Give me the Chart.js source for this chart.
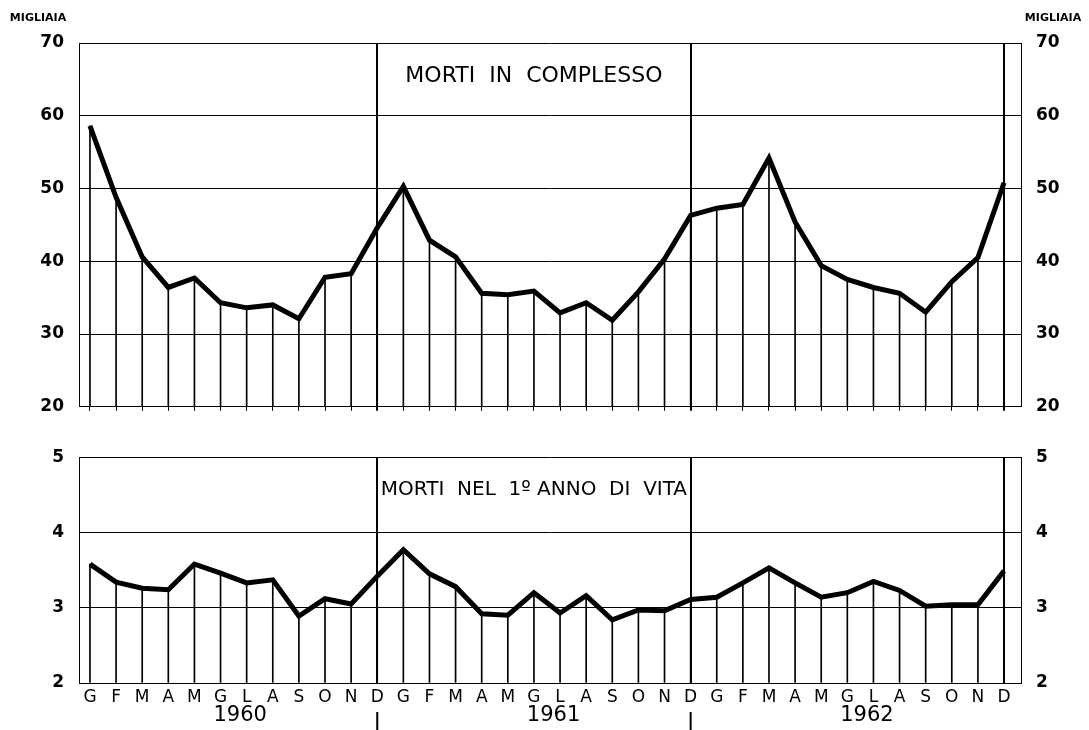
<!DOCTYPE html>
<html>
<head>
<meta charset="utf-8">
<script src="https://cdn.jsdelivr.net/npm/chart.js@4.4.1/dist/chart.umd.min.js"></script>
<style>
  html, body { margin: 0; padding: 0; background: #fff; }
  #wrap { position: relative; width: 1089px; height: 730px; }
  canvas { position: absolute; left: 0; }
</style>
</head>
<body>
<div id="wrap">
  <canvas id="chartTotale" width="1089" height="432" style="top:0"></canvas>
  <canvas id="chartPrimo" width="1089" height="298" style="top:432px"></canvas>
</div>
<script>
// dati (migliaia)
const mesi = ['G', 'F', 'M', 'A', 'M', 'G', 'L', 'A', 'S', 'O', 'N', 'D'];
const anni = ['1960', '1961', '1962'];
const etichette = anni.flatMap(() => mesi);

const totale = [
  58.6, 48.8, 40.6, 36.4, 37.7, 34.3, 33.6, 34.0, 32.1, 37.8, 38.3, 44.6,
  50.3, 42.9, 40.6, 35.6, 35.4, 35.9, 32.9, 34.3, 31.9, 35.8, 40.3, 46.3,
  47.3, 47.8, 54.2, 45.4, 39.4, 37.5, 36.4, 35.6, 33.0, 37.2, 40.5, 50.8
];
const primoAnno = [
  3.58, 3.34, 3.26, 3.24, 3.58, 3.46, 3.33, 3.37, 2.89, 3.12, 3.05, 3.42,
  3.77, 3.45, 3.28, 2.92, 2.90, 3.20, 2.93, 3.16, 2.84, 2.97, 2.96, 3.11,
  3.14, 3.33, 3.53, 3.33, 3.14, 3.20, 3.35, 3.23, 3.02, 3.04, 3.04, 3.49
];
const tickTotale = [20, 30, 40, 50, 60, 70];
const tickPrimo = [2, 3, 4, 5];

const FONT = 'DejaVu Sans';
const fineAnno = i => i % 12 === 11;

function xScale(mostraEtichette, lungTick, altezza) {
  return {
    type: 'linear', min: -0.42, max: 35.65, offset: false,
    afterBuildTicks: a => { a.ticks = etichette.map((_, i) => ({ value: i })); },
    afterFit: a => { a.height = altezza; },
    grid: {
      offset: false,
      color: c => fineAnno(c.index) ? '#000' : 'rgba(0,0,0,0)',
      lineWidth: c => fineAnno(c.index) ? 2 : 1,
      tickColor: '#000', tickLength: lungTick, drawTicks: lungTick > 0
    },
    border: { display: true, color: '#000', width: 1 },
    ticks: {
      display: mostraEtichette, autoSkip: false, maxRotation: 0, padding: 4,
      color: '#000', font: { family: FONT, size: 17 },
      callback: v => etichette[v]
    }
  };
}

function yScale(pos, valori, larghezza, griglia) {
  return {
    position: pos, min: valori[0], max: valori[valori.length - 1],
    afterBuildTicks: a => { a.ticks = valori.map(v => ({ value: v })); },
    afterFit: a => { a.width = larghezza; },
    grid: { display: true, drawOnChartArea: griglia, drawTicks: false, color: '#000', lineWidth: 1 },
    border: { display: true, color: '#000', width: 1 },
    ticks: { color: '#000', padding: 15, font: { family: FONT, size: 17, weight: 'bold' } }
  };
}

function datasets(valori, base) {
  const punti = valori.map((v, i) => ({ x: i, y: v }));
  return [
    { type: 'line', data: punti, borderColor: '#000', borderWidth: 5, pointRadius: 0, tension: 0, yAxisID: 'y' },
    { type: 'bar', data: punti, backgroundColor: '#000', barThickness: 1, base: base, yAxisID: 'y' }
  ];
}

const comuni = {
  responsive: false, animation: false,
  plugins: { legend: { display: false }, tooltip: { enabled: false } }
};

// MORTI IN COMPLESSO
new Chart(document.getElementById('chartTotale'), {
  data: { datasets: datasets(totale, tickTotale[0]) },
  options: {
    ...comuni,
    layout: { padding: { top: 43, left: 0, right: 0, bottom: 0 } },
    scales: {
      x: xScale(false, 4, 12),
      y: yScale('left', tickTotale, 79, true),
      y2: yScale('right', tickTotale, 68, false)
    }
  },
  plugins: [{
    id: 'testiTotale',
    afterDraw(chart) {
      const { ctx, chartArea, scales } = chart;
      ctx.save();
      ctx.fillStyle = '#000';
      ctx.textAlign = 'center';
      ctx.textBaseline = 'middle';
      ctx.font = 'bold 11px ' + FONT;
      ctx.fillText('MIGLIAIA', 38, 18);
      ctx.fillText('MIGLIAIA', 1053, 18);
      ctx.font = '22px ' + FONT;
      const xm = (scales.x.getPixelForValue(11) + scales.x.getPixelForValue(23)) / 2;
      ctx.fillText('MORTI  IN  COMPLESSO', xm, chartArea.top + 33);
      ctx.restore();
    }
  }]
});

// MORTI NEL 1º ANNO DI VITA
new Chart(document.getElementById('chartPrimo'), {
  data: { datasets: datasets(primoAnno, tickPrimo[0]) },
  options: {
    ...comuni,
    layout: { padding: { top: 25, left: 0, right: 0, bottom: 0 } },
    scales: {
      x: xScale(true, 0, 47),
      y: yScale('left', tickPrimo, 79, true),
      y2: yScale('right', tickPrimo, 68, false)
    }
  },
  plugins: [{
    id: 'testiPrimo',
    afterDraw(chart) {
      const { ctx, chartArea, scales } = chart;
      ctx.save();
      ctx.fillStyle = '#000';
      ctx.strokeStyle = '#000';
      ctx.textAlign = 'center';
      ctx.textBaseline = 'middle';
      ctx.font = '20px ' + FONT;
      const xm = (scales.x.getPixelForValue(11) + scales.x.getPixelForValue(23)) / 2;
      ctx.fillText('MORTI  NEL  1º ANNO  DI  VITA', xm, chartArea.top + 33);
      ctx.font = '21px ' + FONT;
      anni.forEach((a, k) => {
        ctx.fillText(a, scales.x.getPixelForValue(k * 12 + 5.75), 284);
      });
      ctx.lineWidth = 2;
      [11, 23].forEach(i => {
        const px = scales.x.getPixelForValue(i);
        ctx.beginPath();
        ctx.moveTo(px, 280);
        ctx.lineTo(px, 298);
        ctx.stroke();
      });
      ctx.restore();
    }
  }]
});
</script>
</body>
</html>
